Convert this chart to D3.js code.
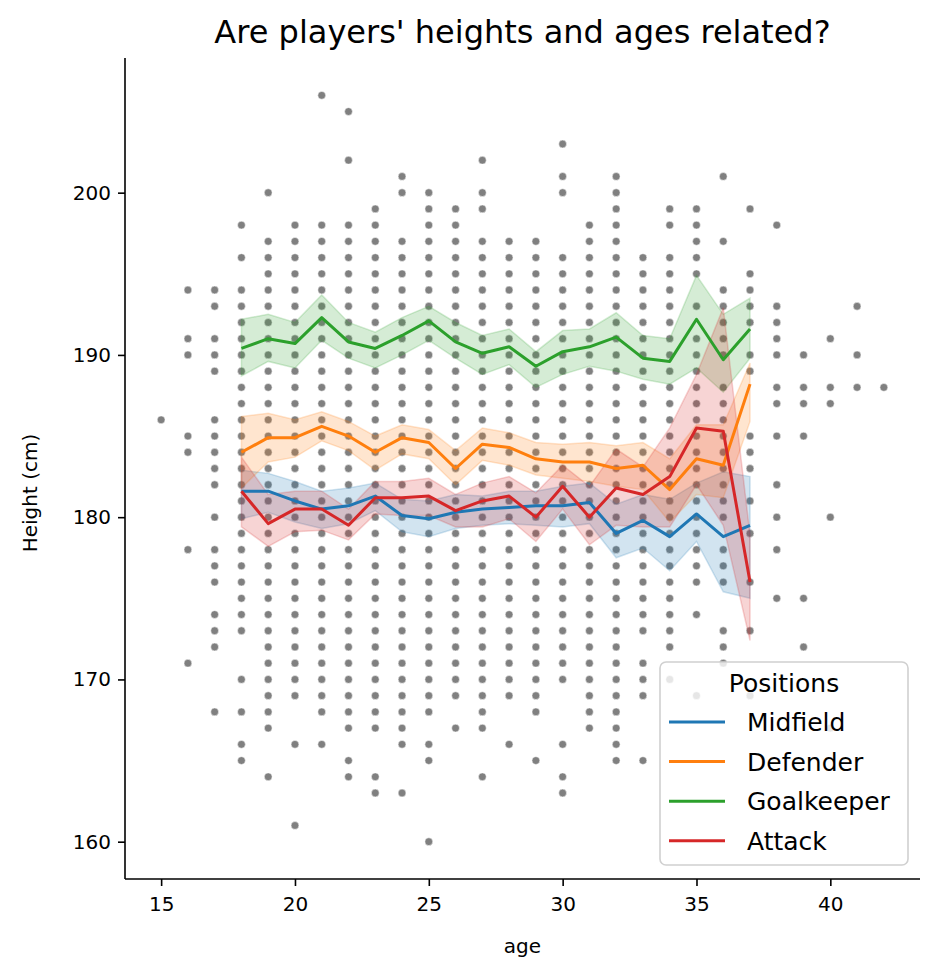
<!doctype html>
<html>
  <head>
    <meta charset="utf-8">
    <title>Heights and ages</title>
    <script src="https://cdnjs.cloudflare.com/ajax/libs/d3/7.8.5/d3.min.js"></script>
    <style>
      body { margin: 0; background: #fff; }
      text { font-family: "DejaVu Sans", sans-serif; fill: #000; }
    </style>
  </head>
  <body>
    <div id="chart"></div>
    <script>
    // every player: age column -> list of heights (cm) seen in that column
    const ages = [15,16,17,18,19,20,21,22,23,24,25,26,27,28,29,30,31,32,33,34,35,36,37,38,39,40,41,42];
    const heights = [
      [186],
      [194,191,190,185,184,178,171],
      [194,193,191,190,189,186,185,184,183,182,180,178,177,176,174,173,172,168],
      [198,196,194,193,192,191,190,189,188,187,186,185,184,183,182,181,180,179,178,177,176,175,174,173,170,168,166,165],
      [200,197,196,195,194,193,192,191,190,189,188,187,186,185,184,183,182,181,180,179,178,177,176,175,174,173,172,171,170,169,168,167,164],
      [198,197,196,195,194,193,192,191,190,189,188,187,186,185,184,183,182,181,180,179,178,177,176,175,174,173,172,171,170,169,166,161],
      [206,198,197,196,195,194,193,192,191,190,189,188,187,186,185,184,183,182,181,180,179,178,177,176,175,174,173,172,171,170,169,168,166],
      [205,202,198,197,196,195,194,193,192,191,190,189,188,187,186,185,184,183,182,181,180,179,178,177,176,175,174,173,172,171,170,169,168,167,165,164],
      [199,198,197,196,195,194,193,192,191,190,189,188,187,186,185,184,183,182,181,180,179,178,177,176,175,174,173,172,171,170,169,168,167,164,163],
      [201,200,197,196,195,194,193,192,191,190,189,188,187,186,185,184,183,182,181,180,179,178,177,176,175,174,173,172,171,170,169,168,167,166,163],
      [200,199,198,197,196,195,194,193,192,191,190,189,188,187,186,185,184,183,182,181,180,179,178,177,176,175,174,173,172,171,170,169,168,166,165,160],
      [199,198,197,196,195,194,193,192,191,190,189,188,187,186,185,184,183,182,181,180,179,178,177,176,175,174,173,172,171,170,169,167],
      [202,200,199,197,196,195,194,193,192,191,190,189,188,187,186,185,184,183,182,181,180,179,178,177,176,175,174,173,172,171,170,169,168,167,164],
      [197,196,195,194,193,192,191,190,189,188,187,186,185,184,183,182,181,180,179,178,177,176,175,174,173,172,171,170,169,166],
      [197,196,195,194,193,192,191,190,189,188,187,186,185,184,183,182,181,180,179,178,177,176,175,174,173,172,171,170,169,168,165],
      [203,201,200,196,195,194,193,192,191,190,189,188,187,186,185,184,183,182,181,180,179,178,177,176,175,174,173,172,171,170,166,164,163],
      [198,197,196,195,194,193,192,191,190,189,188,187,186,185,184,183,182,181,180,179,178,177,176,175,174,173,172,171,170,169,168,167],
      [201,200,199,198,197,196,195,194,193,192,191,190,189,188,187,186,185,184,183,182,181,180,179,178,177,176,175,174,173,172,171,170,169,168,167,166,165],
      [196,195,194,193,192,191,190,189,188,187,186,185,184,183,182,181,180,179,178,177,176,175,174,173,171,170,169,165],
      [199,198,196,195,194,193,192,191,190,189,188,187,186,185,184,183,182,181,180,179,178,177,176,175,174,173,172,170],
      [199,198,197,196,195,193,191,190,189,188,187,186,185,184,183,182,181,180,179,178,177,176,174,169],
      [201,197,194,193,192,191,190,188,187,186,185,184,183,182,181,180,178,177,176,173,172,171],
      [199,195,194,193,192,190,189,185,184,183,181,179,176,173,169],
      [198,193,192,191,190,188,187,185,182,180,178,175],
      [190,188,187,185,175,172],
      [191,188,187,180,167],
      [193,190,188],
      [188]
    ];

    // mean height per age for each position, with the shaded band
    const lineAges = [18,19,20,21,22,23,24,25,26,27,28,29,30,31,32,33,34,35,36,37];
    const positions = ['Midfield', 'Defender', 'Goalkeeper', 'Attack'];
    const colors = ['#1f77b4', '#ff7f0e', '#2ca02c', '#d62728'];

    const midMean = [181.6,181.6,181.0,180.5,180.7,181.3,180.1,179.9,180.3,180.5,180.6,180.7,180.7,180.9,179.0,179.8,178.8,180.2,178.8,179.5];
    const midLo   = [179.9,180.3,179.7,179.3,179.6,180.4,179.1,178.8,179.3,179.5,179.6,179.5,179.4,179.6,177.5,178.1,176.7,178.5,175.4,175.0];
    const midHi   = [182.9,182.7,182.2,181.6,181.8,182.1,181.1,181.0,181.4,181.3,181.6,181.6,181.9,182.1,180.8,181.4,181.1,182.1,182.8,182.5];

    const defMean = [184.0,184.9,184.9,185.6,185.0,184.0,184.9,184.6,183.0,184.5,184.3,183.6,183.4,183.4,183.0,183.2,181.7,183.6,183.2,188.2];
    const defLo   = [181.8,183.4,183.7,184.7,184.1,182.9,183.9,183.6,182.0,183.5,183.2,182.6,182.4,182.2,181.9,181.7,179.7,181.4,181.2,185.9];
    const defHi   = [186.2,186.4,186.0,186.5,185.9,185.0,185.7,185.4,184.1,185.5,185.2,184.6,184.5,184.6,184.4,184.6,183.6,185.7,185.7,189.5];

    const gkMean  = [190.4,191.0,190.7,192.3,190.8,190.4,191.2,192.1,190.8,190.1,190.5,189.3,190.2,190.5,191.1,189.8,189.6,192.2,189.7,191.6];
    const gkLo    = [188.7,189.6,189.2,190.9,189.8,189.2,190.0,190.9,189.8,188.8,189.4,188.0,188.8,189.3,189.0,188.5,188.2,189.2,187.7,189.8];
    const gkHi    = [192.2,192.5,192.0,193.7,192.0,191.4,192.3,193.0,192.0,191.2,191.6,190.2,191.5,191.6,192.6,191.2,191.0,194.9,192.5,193.5];

    const attMean = [181.6,179.6,180.5,180.5,179.5,181.2,181.2,181.3,180.4,181.0,181.3,180.0,181.9,180.0,181.8,181.4,182.5,185.5,185.3,176.0];
    const attLo   = [179.4,178.2,179.1,179.2,178.6,180.2,180.1,180.1,179.4,179.4,179.9,178.5,180.5,178.3,179.5,179.4,179.4,182.0,179.5,172.4];
    const attHi   = [183.7,181.4,181.6,181.6,180.5,182.2,182.2,182.4,181.4,182.1,182.5,181.5,183.2,181.9,184.2,183.1,185.5,188.8,192.9,178.9];

    const xTicks = [15, 20, 25, 30, 35, 40];
    const yTicks = [160, 170, 180, 190, 200];

    const series = [
      { mean: midMean, lo: midLo, hi: midHi },
      { mean: defMean, lo: defLo, hi: defHi },
      { mean: gkMean, lo: gkLo, hi: gkHi },
      { mean: attMean, lo: attLo, hi: attHi }
    ];

    const W = 940, H = 980;
    const mLeft = 125, mRight = 920, mTop = 58, mBottom = 879;

    const svg = d3.select('#chart').append('svg')
      .attr('width', W).attr('height', H);

    const x = d3.scaleLinear().domain([13.65, 43.35]).range([mLeft, mRight]);
    const y = d3.scaleLinear().domain([157.7, 208.3]).range([mBottom, mTop]);

    // scatter of all players
    const points = [];
    ages.forEach((a, i) => heights[i].forEach(h => points.push({ a, h })));

    svg.append('g').selectAll('circle')
      .data(points)
      .join('circle')
      .attr('cx', d => x(d.a))
      .attr('cy', d => y(d.h))
      .attr('r', 3.9)
      .attr('fill', '#808080')
      .attr('stroke', '#fff')
      .attr('stroke-width', 0.5);

    // bands then lines
    const area = d3.area()
      .x((d, i) => x(lineAges[i]))
      .y0(d => y(d.lo))
      .y1(d => y(d.hi));

    const line = d3.line()
      .x((d, i) => x(lineAges[i]))
      .y(d => y(d));

    series.forEach((s, k) => {
      const pts = s.lo.map((v, i) => ({ lo: v, hi: s.hi[i] }));
      svg.append('path')
        .attr('d', area(pts))
        .attr('fill', colors[k])
        .attr('fill-opacity', 0.2)
        .attr('stroke', colors[k])
        .attr('stroke-opacity', 0.2)
        .attr('stroke-width', 1.5);
    });

    series.forEach((s, k) => {
      svg.append('path')
        .attr('d', line(s.mean))
        .attr('fill', 'none')
        .attr('stroke', colors[k])
        .attr('stroke-width', 3)
        .attr('stroke-linejoin', 'round');
    });

    // axes
    const xAxis = svg.append('g')
      .attr('transform', `translate(0,${mBottom})`)
      .call(d3.axisBottom(x).tickValues(xTicks).tickSize(7).tickPadding(11));
    const yAxis = svg.append('g')
      .attr('transform', `translate(${mLeft},0)`)
      .call(d3.axisLeft(y).tickValues(yTicks).tickSize(7).tickPadding(7));

    [xAxis, yAxis].forEach(g => {
      g.select('.domain').attr('stroke', '#000').attr('stroke-width', 1.6);
      g.selectAll('.tick line').attr('stroke', '#000').attr('stroke-width', 1.6);
      g.selectAll('.tick text')
        .style('font-family', '"DejaVu Sans", sans-serif')
        .style('font-size', '20px')
        .attr('fill', '#000');
    });
    // keep the axis lines exactly on the data range, like matplotlib
    xAxis.select('.domain').attr('d', `M${mLeft},0H${mRight}`);
    yAxis.select('.domain').attr('d', `M0,${mBottom}V${mTop}`);

    svg.append('text')
      .attr('x', (mLeft + mRight) / 2).attr('y', 43)
      .attr('text-anchor', 'middle')
      .style('font-size', '32px')
      .text("Are players' heights and ages related?");

    svg.append('text')
      .attr('x', (mLeft + mRight) / 2).attr('y', 953)
      .attr('text-anchor', 'middle')
      .style('font-size', '20px')
      .text('age');

    svg.append('text')
      .attr('transform', `translate(37,493) rotate(-90)`)
      .attr('text-anchor', 'middle')
      .style('font-size', '20px')
      .text('Height (cm)');

    // legend
    const lg = svg.append('g');
    lg.append('rect')
      .attr('x', 660).attr('y', 662)
      .attr('width', 248).attr('height', 203)
      .attr('rx', 6)
      .attr('fill', '#fff').attr('fill-opacity', 0.8)
      .attr('stroke', '#d0d0d0').attr('stroke-width', 1.6);
    lg.append('text')
      .attr('x', 784).attr('y', 692)
      .attr('text-anchor', 'middle')
      .style('font-size', '25px')
      .text('Positions');
    positions.forEach((p, k) => {
      const ly = 722 + k * 39.6;
      lg.append('line')
        .attr('x1', 669).attr('x2', 725)
        .attr('y1', ly).attr('y2', ly)
        .attr('stroke', colors[k]).attr('stroke-width', 3);
      lg.append('text')
        .attr('x', 747).attr('y', ly + 9)
        .style('font-size', '25px')
        .text(p);
    });
    </script>
  </body>
</html>
